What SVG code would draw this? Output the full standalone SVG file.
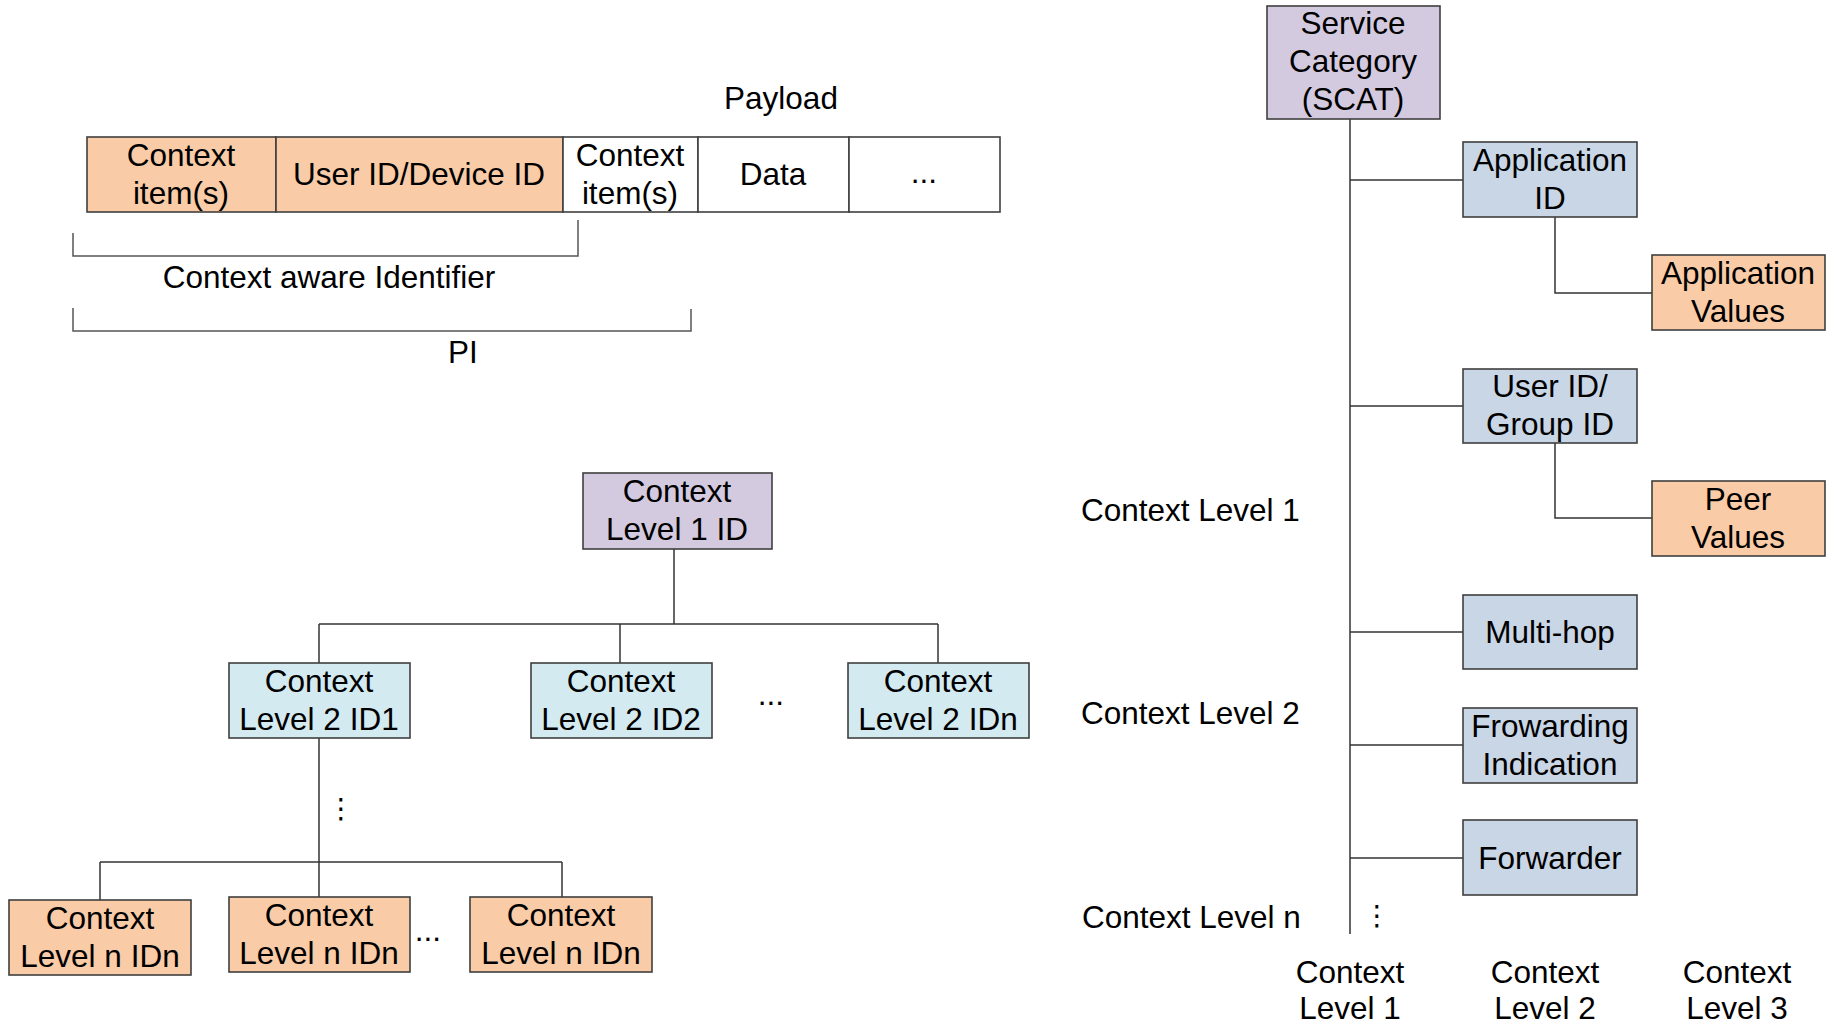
<svg xmlns="http://www.w3.org/2000/svg" width="1834" height="1027" viewBox="0 0 1834 1027">
<style>
  text { font-family: "Liberation Sans", Arial, sans-serif; font-size: 31.5px; fill: #000; }
  .c { text-anchor: middle; }
  .box { stroke: #3f3f3f; stroke-width: 1.6; }
  .orange { fill: #f9cba7; }
  .purple { fill: #d3cadf; }
  .cyan { fill: #d3eaf0; }
  .blue { fill: #c9d6e5; }
  .white { fill: #ffffff; }
  .conn line, .conn path { stroke: #333; stroke-width: 1.5; fill: none; }
  .brk { stroke: #555; stroke-width: 1.5; fill: none; }
  .vdots { font-family: "DejaVu Sans", sans-serif; font-size: 28px; }
</style>
<rect width="1834" height="1027" fill="#fff"/>

<!-- Payload bar -->
<g id="payload">
  <text class="c" x="781" y="109">Payload</text>
  <rect class="box orange" x="87" y="137" width="189" height="75"/>
  <rect class="box orange" x="276" y="137" width="287" height="75"/>
  <rect class="box white" x="563" y="137" width="135" height="75"/>
  <rect class="box white" x="698" y="137" width="151" height="75"/>
  <rect class="box white" x="849" y="137" width="151" height="75"/>
  <text class="c" x="181" y="166">Context</text>
  <text class="c" x="181" y="204">item(s)</text>
  <text class="c" x="419" y="185">User ID/Device ID</text>
  <text class="c" x="630" y="166">Context</text>
  <text class="c" x="630" y="204">item(s)</text>
  <text class="c" x="773" y="185">Data</text>
  <text class="c" x="924" y="183">...</text>
</g>
<g id="brackets">
  <path class="brk" d="M73,233 V256 H578 V220"/>
  <text class="c" x="329" y="288">Context aware Identifier</text>
  <path class="brk" d="M73,308 V331 H691 V309"/>
  <text class="c" x="463" y="363">PI</text>
</g>

<!-- Left tree connectors -->
<g id="connectors-left" class="conn">
  <line x1="674" y1="549" x2="674" y2="624"/>
  <line x1="319" y1="624" x2="938" y2="624"/>
  <line x1="319" y1="624" x2="319" y2="663"/>
  <line x1="620" y1="624" x2="620" y2="663"/>
  <line x1="938" y1="624" x2="938" y2="663"/>
  <line x1="319" y1="738" x2="319" y2="897"/>
  <line x1="100" y1="862" x2="562" y2="862"/>
  <line x1="100" y1="862" x2="100" y2="900"/>
  <line x1="562" y1="862" x2="562" y2="897"/>
</g>

<g id="l1">
  <rect class="box purple" x="583" y="473" width="189" height="76"/>
  <text class="c" x="677" y="502">Context</text>
  <text class="c" x="677" y="540">Level 1 ID</text>
</g>
<g id="l2-1">
  <rect class="box cyan" x="229" y="663" width="181" height="75"/>
  <text class="c" x="319" y="692">Context</text>
  <text class="c" x="319" y="730">Level 2 ID1</text>
</g>
<g id="l2-2">
  <rect class="box cyan" x="531" y="663" width="181" height="75"/>
  <text class="c" x="621" y="692">Context</text>
  <text class="c" x="621" y="730">Level 2 ID2</text>
</g>
<text class="c" x="771" y="705">...</text>
<g id="l2-n">
  <rect class="box cyan" x="848" y="663" width="181" height="75"/>
  <text class="c" x="938" y="692">Context</text>
  <text class="c" x="938" y="730">Level 2 IDn</text>
</g>
<text class="vdots c" x="341" y="818">⋮</text>
<g id="ln-1">
  <rect class="box orange" x="9" y="900" width="182" height="75"/>
  <text class="c" x="100" y="929">Context</text>
  <text class="c" x="100" y="967">Level n IDn</text>
</g>
<g id="ln-2">
  <rect class="box orange" x="229" y="897" width="181" height="75"/>
  <text class="c" x="319" y="926">Context</text>
  <text class="c" x="319" y="964">Level n IDn</text>
</g>
<text class="c" x="428" y="941">...</text>
<g id="ln-3">
  <rect class="box orange" x="470" y="897" width="182" height="75"/>
  <text class="c" x="561" y="926">Context</text>
  <text class="c" x="561" y="964">Level n IDn</text>
</g>

<!-- Right tree connectors -->
<g id="connectors-right" class="conn">
  <line x1="1350" y1="119" x2="1350" y2="934"/>
  <line x1="1350" y1="180" x2="1463" y2="180"/>
  <path d="M1555,217 V293 H1652"/>
  <line x1="1350" y1="406" x2="1463" y2="406"/>
  <path d="M1555,443 V518 H1652"/>
  <line x1="1350" y1="632" x2="1463" y2="632"/>
  <line x1="1350" y1="745" x2="1463" y2="745"/>
  <line x1="1350" y1="858" x2="1463" y2="858"/>
</g>

<g id="scat">
  <rect class="box purple" x="1267" y="6" width="173" height="113"/>
  <text class="c" x="1353" y="34">Service</text>
  <text class="c" x="1353" y="72">Category</text>
  <text class="c" x="1353" y="110">(SCAT)</text>
</g>
<g id="app-id">
  <rect class="box blue" x="1463" y="142" width="174" height="75"/>
  <text class="c" x="1550" y="171">Application</text>
  <text class="c" x="1550" y="209">ID</text>
</g>
<g id="app-values">
  <rect class="box orange" x="1652" y="255" width="173" height="75"/>
  <text class="c" x="1738" y="284">Application</text>
  <text class="c" x="1738" y="322">Values</text>
</g>
<g id="user-group-id">
  <rect class="box blue" x="1463" y="369" width="174" height="74"/>
  <text class="c" x="1550" y="397">User ID/</text>
  <text class="c" x="1550" y="435">Group ID</text>
</g>
<g id="peer-values">
  <rect class="box orange" x="1652" y="481" width="173" height="75"/>
  <text class="c" x="1738" y="510">Peer</text>
  <text class="c" x="1738" y="548">Values</text>
</g>
<g id="multi-hop">
  <rect class="box blue" x="1463" y="595" width="174" height="74"/>
  <text class="c" x="1550" y="643">Multi-hop</text>
</g>
<g id="forwarding-indication">
  <rect class="box blue" x="1463" y="708" width="174" height="75"/>
  <text class="c" x="1550" y="737">Frowarding</text>
  <text class="c" x="1550" y="775">Indication</text>
</g>
<g id="forwarder">
  <rect class="box blue" x="1463" y="820" width="174" height="75"/>
  <text class="c" x="1550" y="869">Forwarder</text>
</g>
<text class="vdots c" x="1377" y="925">⋮</text>

<g id="labels">
  <text x="1081" y="521">Context Level 1</text>
  <text x="1081" y="724">Context Level 2</text>
  <text x="1082" y="928">Context Level n</text>
  <text class="c" x="1350" y="983">Context</text>
  <text class="c" x="1350" y="1019">Level 1</text>
  <text class="c" x="1545" y="983">Context</text>
  <text class="c" x="1545" y="1019">Level 2</text>
  <text class="c" x="1737" y="983">Context</text>
  <text class="c" x="1737" y="1019">Level 3</text>
</g>
</svg>
